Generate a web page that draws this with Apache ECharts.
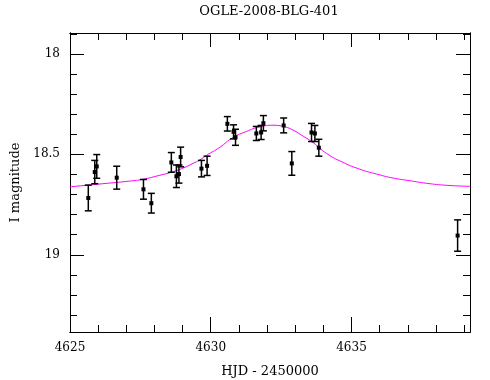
<!DOCTYPE html>
<html>
<head>
<meta charset="utf-8">
<script src="https://cdn.jsdelivr.net/npm/echarts@6/dist/echarts.min.js"></script>
<style>html,body{margin:0;padding:0;background:#fff}#c{width:490px;height:380px}</style>
</head>
<body>
<div id="c"></div>
<script>
// Observed photometry (HJD - 2450000, I mag, error)
var obsDays = [4625.65, 4625.88, 4625.95, 4626.66, 4627.61, 4627.89, 4628.60, 4628.78, 4628.87, 4628.93,
               4629.67, 4629.87, 4630.59, 4630.81, 4630.88, 4631.62, 4631.79, 4631.87, 4632.59, 4632.88,
               4633.58, 4633.70, 4633.84, 4638.77];
var obsMags = [18.717, 18.588, 18.560, 18.616, 18.674, 18.743, 18.540, 18.609, 18.598, 18.513,
               18.571, 18.557, 18.348, 18.388, 18.415, 18.396, 18.391, 18.345, 18.356, 18.545,
               18.391, 18.396, 18.467, 18.904];
var obsErrs = [0.064, 0.058, 0.059, 0.057, 0.049, 0.049, 0.049, 0.056, 0.045, 0.049,
               0.041, 0.048, 0.036, 0.035, 0.040, 0.035, 0.035, 0.038, 0.037, 0.059,
               0.045, 0.040, 0.042, 0.078];
// Model curve
var modelDays = [4625.00, 4625.05, 4626.17, 4627.12, 4627.59, 4628.19, 4628.60, 4629.02, 4629.37, 4629.61,
                 4629.85, 4630.32, 4630.79, 4631.27, 4631.74, 4632.21, 4632.63, 4632.92, 4633.28, 4633.64,
                 4634.11, 4634.70, 4635.30, 4635.89, 4636.48, 4637.07, 4637.67, 4638.38, 4639.21];
var modelMags = [18.662, 18.661, 18.646, 18.633, 18.624, 18.604, 18.589, 18.568, 18.545, 18.528,
                 18.505, 18.465, 18.416, 18.386, 18.363, 18.355, 18.363, 18.379, 18.409, 18.442,
                 18.495, 18.540, 18.574, 18.598, 18.618, 18.631, 18.644, 18.654, 18.659];
// Tick values
var xMajor = [4625, 4630, 4635];
var xMinor = [4626, 4627, 4628, 4629, 4631, 4632, 4633, 4634, 4636, 4637, 4638, 4639];
var yMajor = [18, 18.5, 19];
var yMinor = [17.9, 18.1, 18.2, 18.3, 18.4, 18.6, 18.7, 18.8, 18.9, 19.1, 19.2, 19.3];

var X_MIN = 4625, X_MAX = 4639.21, Y_MIN = 17.896, Y_MAX = 19.384;
var FONT = 'DejaVu Serif';

var errData = obsDays.map(function (d, i) { return [d, obsMags[i], obsErrs[i]]; });
var modelData = modelDays.map(function (d, i) { return [d, modelMags[i]]; });

function xAx(pos, vals, len, labels) {
  return {
    type: 'value', position: pos, min: X_MIN, max: X_MAX,
    axisLine: { show: true, onZero: false, lineStyle: { color: '#000', width: 1 } },
    axisTick: { show: true, inside: true, length: len, customValues: vals, lineStyle: { color: '#000', width: 1 } },
    axisLabel: labels ? { show: true, customValues: vals, margin: 10, color: '#000', fontFamily: FONT, fontSize: 12,
                          formatter: function (v) { return String(Math.round(v)); } } : { show: false },
    splitLine: { show: false }
  };
}
function yAx(pos, vals, len, labels) {
  return {
    type: 'value', position: pos, inverse: true, min: Y_MIN, max: Y_MAX,
    axisLine: { show: true, onZero: false, lineStyle: { color: '#000', width: 1 } },
    axisTick: { show: true, inside: true, length: len, customValues: vals, lineStyle: { color: '#000', width: 1 } },
    axisLabel: labels ? { show: true, customValues: vals, margin: 10, color: '#000', fontFamily: FONT, fontSize: 12,
                          formatter: function (v) { return String(v); } } : { show: false },
    splitLine: { show: false }
  };
}

var xAxes = [xAx('bottom', xMajor, 15, true), xAx('bottom', xMinor, 7, false), xAx('top', xMajor, 14, false), xAx('top', xMinor, 7, false)];
xAxes[0].name = 'HJD - 2450000';
xAxes[0].nameLocation = 'middle';
xAxes[0].nameGap = 33;
xAxes[0].nameTextStyle = { color: '#000', fontFamily: FONT, fontSize: 13 };
var yAxes = [yAx('left', yMajor, 14, true), yAx('left', yMinor, 7, false), yAx('right', yMajor, 14, false), yAx('right', yMinor, 7, false)];
yAxes[0].name = 'I magnitude';
yAxes[0].nameLocation = 'middle';
yAxes[0].nameRotate = 90;
yAxes[0].nameGap = 45;
yAxes[0].nameTextStyle = { color: '#000', fontFamily: FONT, fontSize: 13 };

var chart = echarts.init(document.getElementById('c'), null, { renderer: 'canvas' });
chart.setOption({
  animation: false,
  backgroundColor: '#fff',
  grid: { left: 70, right: 20, top: 33, bottom: 48, containLabel: false, outerBoundsMode: 'none' },
  graphic: [{
    type: 'text', x: 269, y: 5,
    style: { text: 'OGLE-2008-BLG-401', fill: '#000', font: '13px "DejaVu Serif"', textAlign: 'center', textVerticalAlign: 'top' }
  }],
  xAxis: xAxes,
  yAxis: yAxes,
  series: [
    {
      type: 'line', xAxisIndex: 0, yAxisIndex: 0, data: modelData, smooth: true, showSymbol: false,
      lineStyle: { color: '#ff00ff', width: 1 }, z: 2
    },
    {
      type: 'custom', xAxisIndex: 0, yAxisIndex: 0, data: errData, z: 3,
      encode: { x: 0, y: 1 },
      renderItem: function (params, api) {
        var x = api.value(0), m = api.value(1), e = api.value(2);
        var c = api.coord([x, m]);
        var t = api.coord([x, m - e]);
        var b = api.coord([x, m + e]);
        var st = { stroke: '#000', lineWidth: 1.5 };
        return {
          type: 'group',
          children: [
            { type: 'line', shape: { x1: c[0], y1: t[1], x2: c[0], y2: b[1] }, style: st },
            { type: 'line', shape: { x1: c[0] - 3.5, y1: t[1], x2: c[0] + 3.5, y2: t[1] }, style: st },
            { type: 'line', shape: { x1: c[0] - 3.5, y1: b[1], x2: c[0] + 3.5, y2: b[1] }, style: st },
            { type: 'rect', shape: { x: c[0] - 2, y: c[1] - 2, width: 4, height: 4 }, style: { fill: '#000' } }
          ]
        };
      }
    }
  ]
});
</script>
</body>
</html>
